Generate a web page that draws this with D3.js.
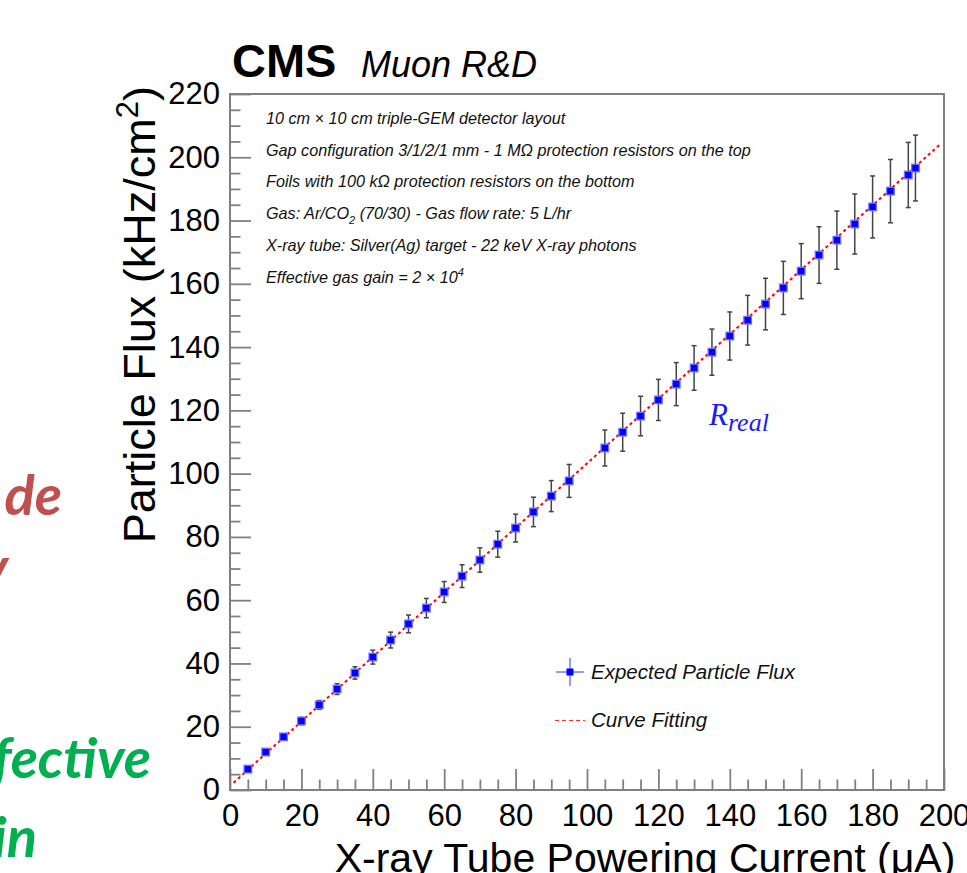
<!DOCTYPE html>
<html>
<head>
<meta charset="utf-8">
<script src="https://cdn.jsdelivr.net/npm/d3@7"></script>
<style>
  html, body { margin: 0; padding: 0; background: #fff; }
  svg { display: block; }
  .sans { font-family: "Liberation Sans", Arial, Helvetica, sans-serif; }
</style>
</head>
<body>
<div id="chart"></div>
<script>
// ---- data ----
const currents = [5,10,15,20,25,30,35,40,45,50,55,60,65,70,75,80,85,90,95,
                  105,110,115,120,125,130,135,140,145,150,155,160,165,170,175,180,185,190,192];
const flux = [6.6,12.0,16.8,21.8,26.9,31.9,37.0,42.0,47.4,52.5,57.5,62.6,67.6,72.7,77.7,82.8,87.9,92.9,97.7,
              108.1,113.1,118.2,123.3,128.3,133.4,138.4,143.5,148.5,153.6,158.7,164.0,169.1,173.8,178.9,184.3,189.3,194.4,196.6];
const fluxErr = [0.35,0.65,0.9,1.15,1.4,1.7,1.95,2.2,2.5,2.8,3.05,3.3,3.6,3.85,4.1,4.4,4.65,4.9,5.2,
                 5.7,6.0,6.25,6.5,6.8,7.05,7.3,7.6,7.85,8.15,8.4,8.7,8.95,9.2,9.5,9.8,10.0,10.3,10.4];
const fitX = [1, 199];
const fitY = [2.3, 204.2];
const xTicks = [0,20,40,60,80,100,120,140,160,180,200];
const yTicks = [0,20,40,60,80,100,120,140,160,180,200,220];
const infoLines = [
  "10 cm \u00d7 10 cm triple-GEM detector layout",
  "Gap configuration 3/1/2/1 mm - 1 M\u03a9 protection resistors on the top",
  "Foils with 100 k\u03a9 protection resistors on the bottom",
  "Gas: Ar/CO|2| (70/30) - Gas flow rate: 5 L/hr",
  "X-ray tube: Silver(Ag) target - 22 keV X-ray photons",
  "Effective gas gain = 2 \u00d7 10^4^"
];
const legendLabels = ["Expected Particle Flux", "Curve Fitting"];

// ---- drawing ----
const W = 967, H = 873;
const svg = d3.select("#chart").append("svg").attr("width", W).attr("height", H)
  .attr("class", "sans");
svg.append("rect").attr("width", W).attr("height", H).attr("fill", "#fff");

const x = d3.scaleLinear().domain([0, 200]).range([230, 944]);
const y = d3.scaleLinear().domain([0, 220]).range([790, 94]);
const grey = "#808080";

// slide fragments cut at the left edge (as in the reference)
const slide = svg.append("g").style("font-family", "Lato, 'Open Sans', sans-serif")
  .style("font-weight", "bold").style("font-style", "italic").attr("text-anchor", "end");
slide.append("text").attr("x", 62).attr("y", 515).attr("font-size", 56).attr("fill", "#C0504D").text("de");
slide.append("text").attr("x", 8).attr("y", 587).attr("font-size", 56).attr("fill", "#C0504D").text("y");
slide.append("text").attr("x", 151).attr("y", 778).attr("font-size", 56).attr("fill", "#00B050").text("Effective");
slide.append("text").attr("x", 37).attr("y", 857).attr("font-size", 56).attr("fill", "#00B050").text("gain");

// minor ticks
const minorX = d3.range(0, 201, 5).filter(v => v % 20 !== 0);
const minorY = d3.range(0, 221, 5).filter(v => v % 20 !== 0);
svg.append("g").attr("transform", "translate(0,790)")
  .call(d3.axisBottom(x).tickValues(minorX).tickSize(-10.5).tickFormat(""))
  .call(g => g.select(".domain").remove())
  .call(g => g.selectAll("line").attr("stroke", grey).attr("stroke-width", 1.8));
svg.append("g").attr("transform", "translate(230,0)")
  .call(d3.axisLeft(y).tickValues(minorY).tickSize(-10.5).tickFormat(""))
  .call(g => g.select(".domain").remove())
  .call(g => g.selectAll("line").attr("stroke", grey).attr("stroke-width", 1.8));

// major ticks + labels
const xAxis = svg.append("g").attr("transform", "translate(0,790)")
  .call(d3.axisBottom(x).tickValues(xTicks).tickSize(-21).tickPadding(14).tickFormat(d3.format("d")));
xAxis.select(".domain").remove();
xAxis.selectAll("line").attr("stroke", grey).attr("stroke-width", 1.8);
xAxis.selectAll("text").attr("font-size", 31).attr("fill", "#000")
  .attr("font-family", "'Liberation Sans', Arial, sans-serif");

const yAxis = svg.append("g").attr("transform", "translate(230,0)")
  .call(d3.axisLeft(y).tickValues(yTicks).tickSize(-21).tickPadding(10).tickFormat(d3.format("d")));
yAxis.select(".domain").remove();
yAxis.selectAll("line").attr("stroke", grey).attr("stroke-width", 1.8);
yAxis.selectAll("text").attr("font-size", 31).attr("fill", "#000")
  .attr("font-family", "'Liberation Sans', Arial, sans-serif");

// frame
svg.append("rect").attr("x", x(0)).attr("y", y(220))
  .attr("width", x(200) - x(0)).attr("height", y(0) - y(220))
  .attr("fill", "none").attr("stroke", grey).attr("stroke-width", 2);

// axis titles
svg.append("text").attr("x", 645).attr("y", 872).attr("text-anchor", "middle")
  .attr("font-size", 41).attr("fill", "#000").text("X-ray Tube Powering Current (\u03bcA)");
const yt = svg.append("text").attr("transform", "translate(155,86) rotate(-90)")
  .attr("text-anchor", "end").attr("font-size", 45).attr("fill", "#000");
yt.append("tspan").text("Particle Flux (kHz/cm");
yt.append("tspan").attr("font-size", 31).attr("dy", -17).text("2");
yt.append("tspan").attr("dy", 17).text(")");

// CMS label
svg.append("text").attr("x", 232).attr("y", 77).attr("font-size", 47)
  .attr("font-weight", "bold").attr("fill", "#000").text("CMS");
svg.append("text").attr("x", 361).attr("y", 77).attr("font-size", 36)
  .attr("font-style", "italic").attr("fill", "#000").text("Muon R&D");

// info lines
infoLines.forEach((line, i) => {
  const t = svg.append("text").attr("x", 266).attr("y", 124 + i * 31.7)
    .attr("font-size", 16.2).attr("font-style", "italic").attr("fill", "#111");
  // |..| subscript, ^..^ superscript
  const parts = line.split(/(\|[^|]*\||\^[^^]*\^)/).filter(s => s.length);
  let shift = 0;
  parts.forEach(p => {
    if (p[0] === "|") {
      t.append("tspan").attr("font-size", 11).attr("dy", 5 - shift).text(p.slice(1, -1)); shift = 5;
    } else if (p[0] === "^") {
      t.append("tspan").attr("font-size", 11).attr("dy", -7 - shift).text(p.slice(1, -1)); shift = -7;
    } else {
      t.append("tspan").attr("dy", -shift).text(p); shift = 0;
    }
  });
});

// fit line
svg.append("line")
  .attr("x1", x(fitX[0])).attr("y1", y(fitY[0]))
  .attr("x2", x(fitX[1])).attr("y2", y(fitY[1]))
  .attr("stroke", "#ff0000").attr("stroke-width", 2).attr("stroke-dasharray", "3,3");

// error bars
const pts = currents.map((c, i) => ({ c, f: flux[i], e: fluxErr[i] }));
const eb = svg.append("g").attr("stroke", "#444").attr("stroke-width", 1.5);
pts.forEach(d => {
  eb.append("line").attr("x1", x(d.c)).attr("x2", x(d.c)).attr("y1", y(d.f - d.e)).attr("y2", y(d.f + d.e));
  [d.f - d.e, d.f + d.e].forEach(v => {
    eb.append("line").attr("x1", x(d.c) - 2.5).attr("x2", x(d.c) + 2.5).attr("y1", y(v)).attr("y2", y(v));
  });
});

// markers
svg.append("g").selectAll("rect").data(pts).join("rect")
  .attr("x", d => x(d.c) - 3.8).attr("y", d => y(d.f) - 3.8)
  .attr("width", 7.6).attr("height", 7.6)
  .attr("fill", "#0000ff").attr("stroke", "#7070ff").attr("stroke-width", 1.3);

// R_real annotation
const rr = svg.append("text").attr("x", 709).attr("y", 425)
  .attr("font-family", "'Liberation Serif', 'DejaVu Serif', serif").attr("font-style", "italic")
  .attr("fill", "#1a1aff").attr("font-size", 31);
rr.append("tspan").text("R");
rr.append("tspan").attr("font-size", 26).attr("dy", 6).text("real");

// legend
const lg = svg.append("g");
lg.append("line").attr("x1", 556).attr("x2", 584).attr("y1", 672).attr("y2", 672)
  .attr("stroke", "#6060ff").attr("stroke-width", 1.3);
lg.append("line").attr("x1", 570).attr("x2", 570).attr("y1", 658).attr("y2", 686)
  .attr("stroke", "#6060ff").attr("stroke-width", 1.3);
lg.append("rect").attr("x", 566.5).attr("y", 668.5).attr("width", 7).attr("height", 7).attr("fill", "#0000ff");
lg.append("line").attr("x1", 555).attr("x2", 585).attr("y1", 720.5).attr("y2", 720.5)
  .attr("stroke", "#ff3030").attr("stroke-width", 1).attr("stroke-dasharray", "4,3");
lg.append("text").attr("x", 591).attr("y", 679).attr("font-size", 20.5).attr("font-style", "italic")
  .attr("fill", "#111").text(legendLabels[0]);
lg.append("text").attr("x", 591).attr("y", 727).attr("font-size", 20.5).attr("font-style", "italic")
  .attr("fill", "#111").text(legendLabels[1]);
</script>
</body>
</html>
